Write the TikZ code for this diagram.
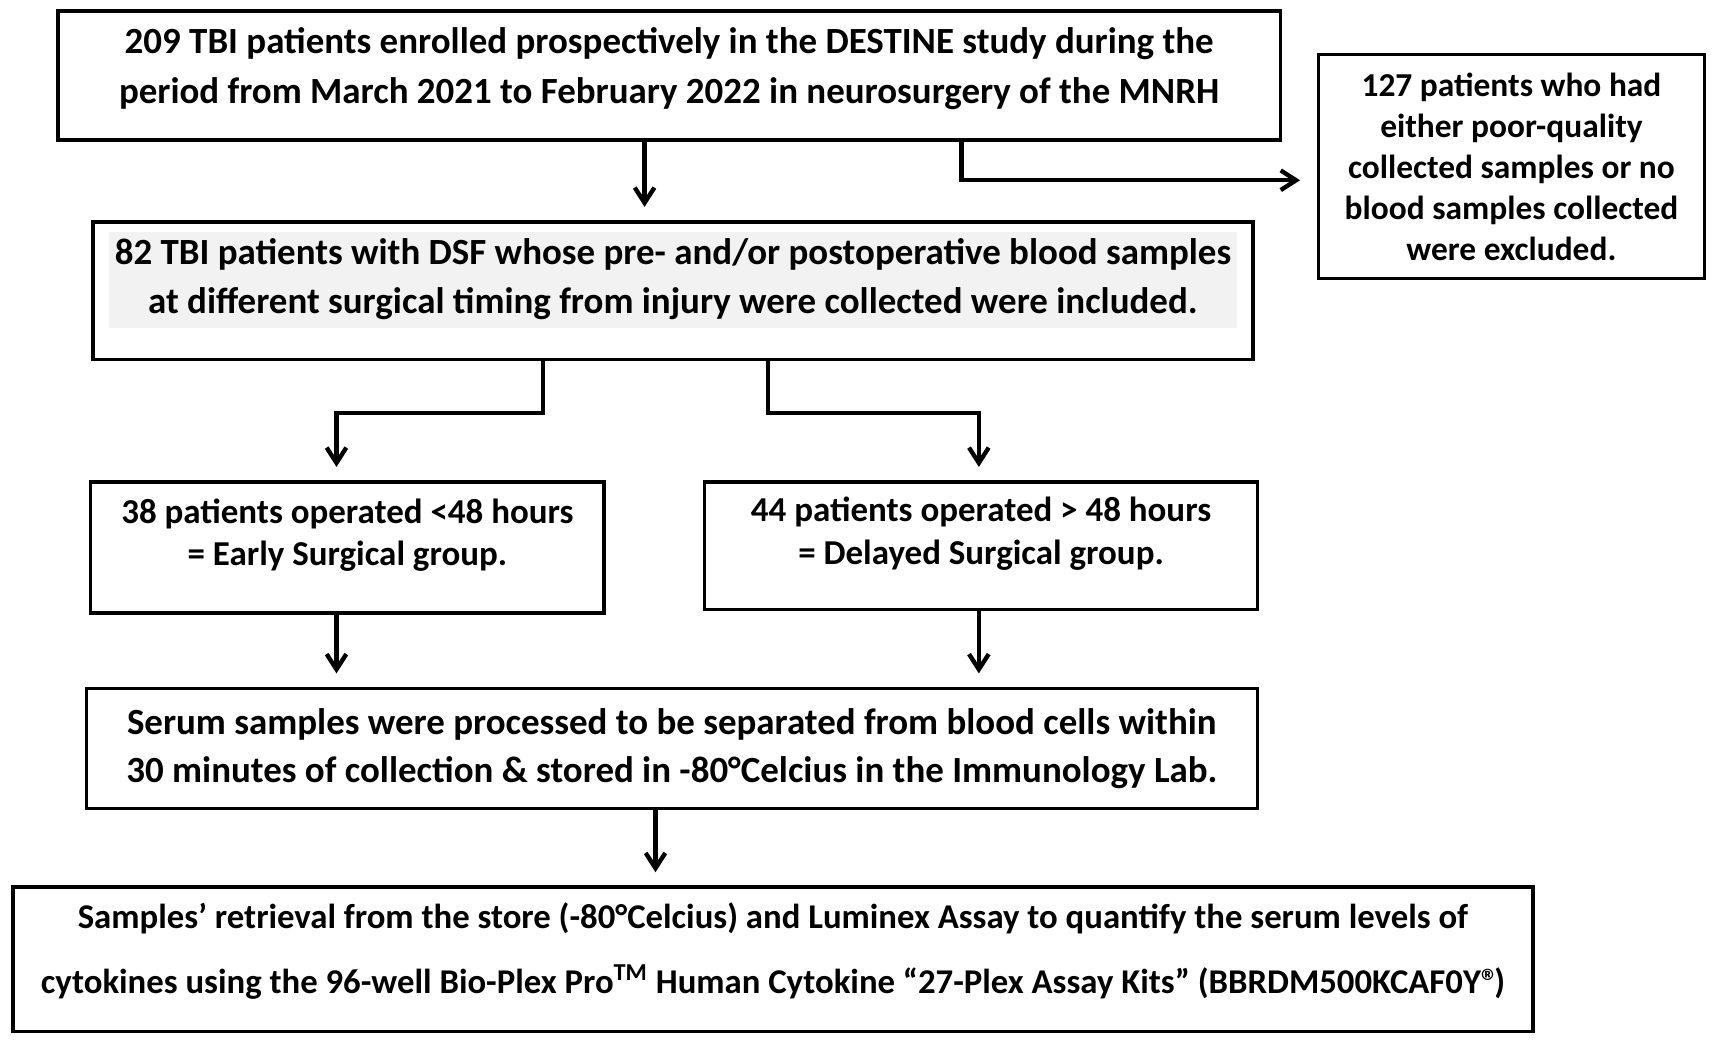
\documentclass[tikz,border=0pt]{standalone}
\usepackage{fontspec}
\setmainfont{Carlito}
\usetikzlibrary{arrows.meta}
\definecolor{bandgray}{HTML}{F2F2F2}
\newcommand{\padb}[1]{\rule[-#1]{0pt}{#1}}

\begin{document}
\begin{tikzpicture}
  [x=0.5pt,y=-0.5pt,line width=1.6pt,
   every node/.style={rectangle,draw,align=center,inner sep=0pt},
   txt/.style 2 args={font=\bfseries\fontsize{#1}{#2}\selectfont},
   flow/.style={line width=2pt,-{Straight Barb[length=7pt,width=9pt]},shorten >=6pt}]
  \useasboundingbox (0,0) rectangle (1568,955);

  \fill[bandgray] (100,212) rectangle (1132,300);

  \node (n1) at (612.5,69) [minimum width=559.5pt,minimum height=59pt,txt={16.9}{22.5pt}]
    {209 TBI patients enrolled prospectively in the DESTINE study during the\\
     period from March 2021 to February 2022 in neurosurgery of the MNRH\padb{9pt}};
  \node (n2) at (1383.5,152.5) [minimum width=176.5pt,minimum height=102.5pt,txt={15.3}{18.75pt}]
    {127 patients who had\\ either poor-quality\\ collected samples or no\\
     blood samples collected\\ were excluded.};
  \node (n3) at (616,266) [minimum width=531pt,minimum height=63pt,txt={16.9}{22.5pt}]
    {82 TBI patients with DSF whose pre- and/or postoperative blood samples\\
     at different surgical timing from injury were collected were included.\padb{13pt}};
  \node (n4) at (318,501) [minimum width=235pt,minimum height=60pt,txt={16}{19.5pt}]
    {38 patients operated <48 hours\\ = Early Surgical group.\padb{14pt}};
  \node (n5) at (898,499.5) [minimum width=253pt,minimum height=58.5pt,txt={16}{19.5pt}]
    {44 patients operated > 48 hours\\ = Delayed Surgical group.\padb{14pt}};
  \node (n6) at (615,685) [minimum width=536pt,minimum height=55pt,txt={16.9}{22pt}]
    {Serum samples were processed to be separated from blood cells within\\
     30 minutes of collection \& stored in -80°Celcius in the Immunology Lab.};
  \node (n7) at (707.5,878) [minimum width=695.5pt,minimum height=66pt,txt={15.9}{30pt}]
    {Samples’ retrieval from the store (-80°Celcius) and Luminex Assay to quantify the serum levels of\\
     cytokines using the 96-well Bio-Plex Pro\textsuperscript{TM} Human Cytokine “27-Plex Assay Kits” (BBRDM500KCAF0Y®\kern-2pt)\padb{10pt}};

  \coordinate (a1) at (590,0);
  \coordinate (xa) at (880,165);
  \coordinate (xb) at (1190,165);
  \coordinate (s1) at (497,378);
  \coordinate (s2) at (308,378);
  \coordinate (s3) at (703,378);
  \coordinate (s4) at (896,378);
  \coordinate (a2) at (600,0);

  \draw[flow] (n1.south -| a1) -- (n3.north -| a1);
  \draw[flow,shorten >=0pt] (n1.south -| xa) -- (xa) -- (xb);
  \draw[flow] (n3.south -| s1) -- (s1) -- (s2) -- (n4.north -| s2);
  \draw[flow] (n3.south -| s3) -- (s3) -- (s4) -- (n5.north -| s4);
  \draw[flow] (n4.south -| s2) -- (n6.north -| s2);
  \draw[flow] (n5.south -| s4) -- (n6.north -| s4);
  \draw[flow] (n6.south -| a2) -- (n7.north -| a2);

\end{tikzpicture}
\end{document}
